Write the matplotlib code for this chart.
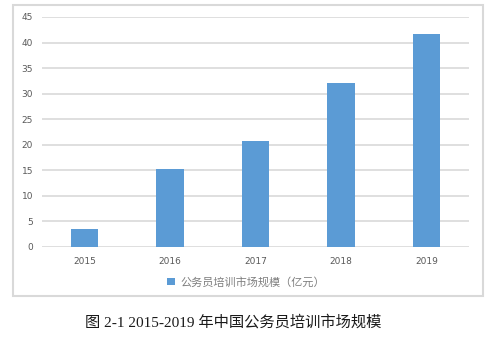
import matplotlib.pyplot as plt
from matplotlib.patches import Rectangle

# ---- data ----
years = ['2015', '2016', '2017', '2018', '2019']
market_size = [3.5, 15.3, 20.7, 32.1, 41.7]
y_ticks = [0, 5, 10, 15, 20, 25, 30, 35, 40, 45]
legend_label = '公务员培训市场规模（亿元）'
caption = '图 2-1 2015-2019 年中国公务员培训市场规模'

plt.rcParams['font.family'] = ['Noto Sans CJK SC', 'DejaVu Sans']

W, H = 495, 337
fig = plt.figure(figsize=(W / 100, H / 100), dpi=100)

# chart frame (like the Excel chart area)
fig.patches.append(Rectangle((13 / W, 1 - 296 / H), 470 / W, 291 / H,
                             transform=fig.transFigure, fill=False,
                             edgecolor='#D9D9D9', linewidth=1.5))

ax = fig.add_axes([42 / W, 1 - 247 / H, 427 / W, 230 / H])
x = range(len(years))
bars = ax.bar(x, market_size, width=0.32, color='#5B9BD5', zorder=3,
              label=legend_label)
ax.set_xlim(-0.5, len(years) - 0.5)
ax.set_ylim(0, 45)
ax.set_yticks(y_ticks)
ax.set_xticks(list(x))
ax.set_xticklabels(years)
ax.yaxis.grid(True, color='#D9D9D9', linewidth=1.2, zorder=0)
for s in ax.spines.values():
    s.set_visible(False)
ax.tick_params(length=0, labelsize=6.5, colors='#595959')
ax.tick_params(axis='x', pad=7)
ax.tick_params(axis='y', pad=6.5)
for t in ax.get_xticklabels() + ax.get_yticklabels():
    t.set_family('DejaVu Sans')

fig.legend(handles=[bars], labels=[legend_label], loc='center',
           bbox_to_anchor=(246 / W, 1 - 282 / H), frameon=False,
           prop={'size': 8, 'weight': 'light'}, labelcolor='#7F7F7F',
           handlelength=0.7, handleheight=0.7, handletextpad=0.5)

fig.text(85 / W, 1 - 322 / H, caption, ha='left', va='center', fontsize=11,
         family=['Liberation Serif', 'Noto Sans CJK SC'], weight='light',
         color='#1a1a1a')

fig.savefig('out.png', dpi=100)
